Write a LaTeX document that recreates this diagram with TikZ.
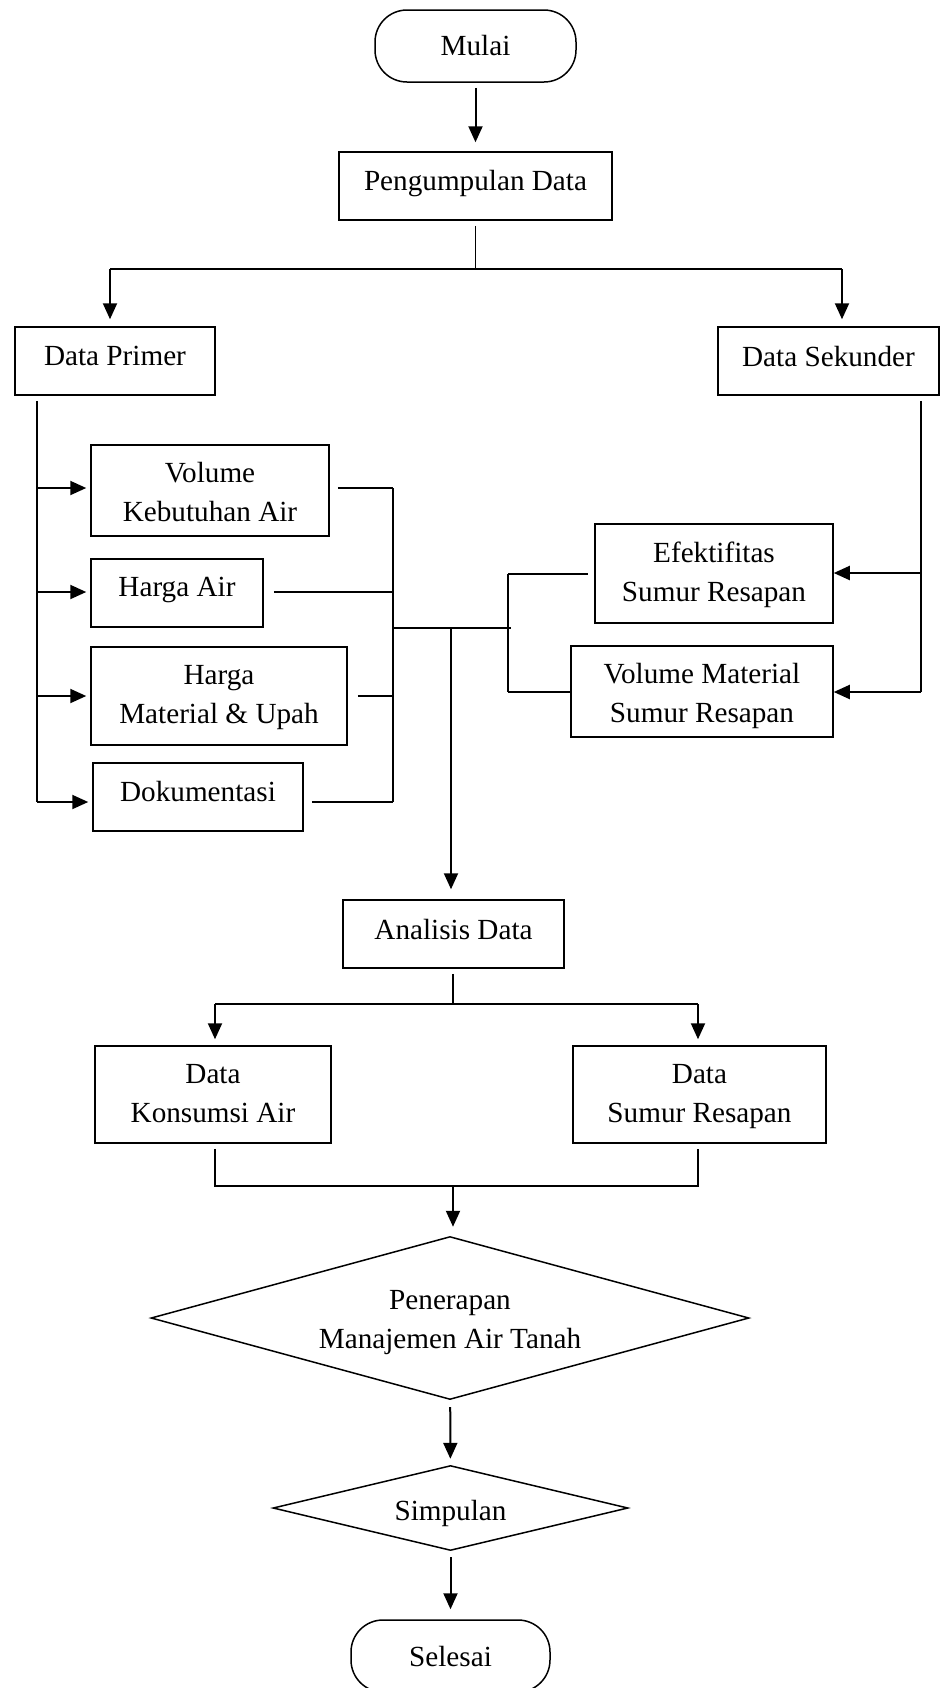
\documentclass[tikz,border=0pt]{standalone}
\usepackage{fontspec}
\setmainfont{Liberation Serif}
\usetikzlibrary{shapes.geometric,arrows.meta}
\newcommand{\rsb}[2]{\raisebox{#1}[\height][\depth]{#2}}
\begin{document}
\begin{tikzpicture}[x=0.5pt,y=-0.5pt,
  every node/.style={font=\fontsize{14.6pt}{19.5pt}\selectfont},
  box/.style={draw,line width=0.75pt,inner sep=0pt,align=center},
  term/.style={box,rounded corners=16pt},
  dia/.style={box,diamond},
  ln/.style={line width=0.8pt},
  arr/.style={line width=1pt,-{Triangle[length=8pt,width=7pt]}},
]
\useasboundingbox (0,0) rectangle (940,1688);

% nodes
\node[term,minimum width=100.5pt,minimum height=36pt] (mulai) at (475.5,46) {Mulai};
\node[box,minimum width=136.5pt,minimum height=34pt] (peng) at (475.5,186) {\rsb{1.4pt}{Pengumpulan Data}};
\node[box,minimum width=100pt,minimum height=34pt] (primer) at (115,361) {\rsb{2.4pt}{Data Primer}};
\node[box,minimum width=110.5pt,minimum height=34pt] (sekunder) at (828.5,361) {\rsb{2.4pt}{Data Sekunder}};
\node[box,minimum width=119pt,minimum height=45.5pt] (vol) at (210,490.5) {\rsb{-1pt}{Volume}\\\rsb{-1pt}{Kebutuhan Air}};
\node[box,minimum width=86pt,minimum height=34pt] (hair) at (177,593) {\rsb{1.5pt}{Harga Air}};
\node[box,minimum width=128pt,minimum height=49pt] (hmu) at (219,696) {\rsb{-1pt}{Harga}\\\rsb{-1pt}{Material \& Upah}};
\node[box,minimum width=105pt,minimum height=34pt] (dok) at (198,797) {\rsb{2.6pt}{Dokumentasi}};
\node[box,minimum width=119pt,minimum height=49.5pt] (efek) at (714,573.5) {\rsb{-0.5pt}{Efektifitas}\\\rsb{-0.5pt}{Sumur Resapan}};
\node[box,minimum width=131pt,minimum height=45.5pt] (volmat) at (702,691.5) {\rsb{-2pt}{Volume Material}\\\rsb{-2pt}{Sumur Resapan}};
\node[box,minimum width=110.5pt,minimum height=34pt] (anal) at (453.5,934) {\rsb{2.5pt}{Analisis Data}};
\node[box,minimum width=118pt,minimum height=48.5pt] (kons) at (213,1094.5) {\rsb{0.7pt}{Data}\\\rsb{0.7pt}{Konsumsi Air}};
\node[box,minimum width=126.5pt,minimum height=48.5pt] (dsr) at (699.5,1094.5) {\rsb{-1pt}{Data}\\\rsb{-1pt}{Sumur Resapan}};
\node[dia,aspect=3.67,minimum width=299pt,minimum height=81.5pt] (pen) at (450,1318) {\rsb{-2.2pt}{Penerapan}\\\rsb{-2.2pt}{Manajemen Air Tanah}};
\node[dia,aspect=4.18,minimum width=177.5pt,minimum height=42.5pt] (simp) at (450.5,1508) {\rsb{-2.6pt}{Simpulan}};
\node[term,minimum width=99.5pt,minimum height=36pt] (sel) at (450.5,1656) {Selesai};

% top
\draw[arr,shorten <=2.5pt,shorten >=4.5pt] (mulai) -- (peng);
\coordinate (j1) at (475.5,269);
\coordinate (j1L) at (110,269);
\coordinate (j1R) at (842,269);
\draw[ln,shorten <=2.5pt] (peng) -- (j1);
\draw[ln] (j1L) -- (j1R);
\draw[arr,shorten >=3.5pt] (j1L) -- (j1L |- primer.north);
\draw[arr,shorten >=3.5pt] (j1R) -- (j1R |- sekunder.north);

% primer bus
\coordinate (p1) at (37,488);
\coordinate (p2) at (37,592);
\coordinate (p3) at (37,696);
\coordinate (p4) at (37,802);
\draw[ln,shorten <=2.5pt] (primer.south -| p4) -- (p4);
\draw[arr,shorten >=2pt] (p1) -- (p1 -| vol.west);
\draw[arr,shorten >=2pt] (p2) -- (p2 -| hair.west);
\draw[arr,shorten >=2pt] (p3) -- (p3 -| hmu.west);
\draw[arr,shorten >=2pt] (p4) -- (p4 -| dok.west);

% collector of primer
\coordinate (q1) at (393,488);
\coordinate (q2) at (393,592);
\coordinate (q3) at (393,696);
\coordinate (q4) at (393,802);
\draw[ln,shorten <=4pt] (vol.east |- q1) -- (q1);
\draw[ln,shorten <=5pt] (hair.east |- q2) -- (q2);
\draw[ln,shorten <=5pt] (hmu.east |- q3) -- (q3);
\draw[ln,shorten <=4pt] (dok.east |- q4) -- (q4);
\draw[ln] (q1) -- (q4);
\coordinate (m) at (393,628);
\coordinate (mR) at (511,628);
\coordinate (md) at (451,628);
\draw[ln] (m) -- (mR);

% collector of sekunder
\coordinate (r1) at (508,574);
\coordinate (r2) at (508,692);
\draw[ln] (r1) -- (r2);
\draw[ln,shorten >=3pt] (r1) -- (efek.west |- r1);
\draw[ln] (r2) -- (volmat.west |- r2);

% sekunder bus
\coordinate (s1) at (921,573);
\coordinate (s2) at (921,692);
\draw[ln,shorten <=2.5pt] (sekunder.south -| s2) -- (s2);
\draw[arr] (s1) -- (s1 -| efek.east);
\draw[arr] (s2) -- (s2 -| volmat.east);

% to analisis
\draw[arr,shorten >=5pt] (md) -- (anal.north -| md);

% analisis branch
\coordinate (a0) at (453,1004);
\coordinate (aL) at (215,1004);
\coordinate (aR) at (698,1004);
\draw[ln,shorten <=2.5pt] (anal.south -| a0) -- (a0);
\draw[ln] (aL) -- (aR);
\draw[arr,shorten >=3pt] (aL) -- (aL |- kons.north);
\draw[arr,shorten >=3pt] (aR) -- (aR |- dsr.north);

% merge
\coordinate (bL) at (215,1186);
\coordinate (bR) at (698,1186);
\coordinate (b0) at (453,1186);
\draw[ln,shorten <=2.5pt,shorten >=2.5pt] (kons.south -| bL) -- (bL) -- (bR) -- (dsr.south -| bR);
\draw[arr,shorten >=4.5pt] (b0) -- (b0 |- pen.north);

% bottom
\draw[arr,shorten <=3.5pt,shorten >=3pt] (pen) -- (simp);
\draw[arr,shorten <=3pt,shorten >=5pt] (simp) -- (sel);
\end{tikzpicture}
\end{document}
